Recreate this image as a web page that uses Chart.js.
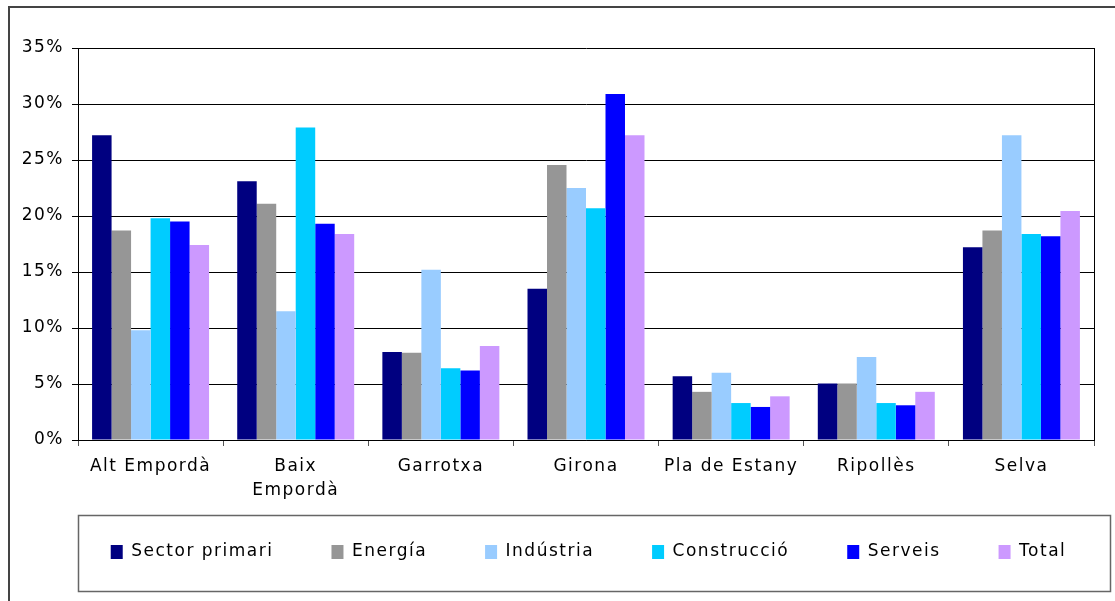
<!DOCTYPE html>
<html>
<head>
<meta charset="utf-8">
<script src="https://cdn.jsdelivr.net/npm/chart.js@4/dist/chart.umd.min.js"></script>
<style>
  body { margin: 0; background: #fff; }
  canvas { display: block; }
</style>
</head>
<body>
<canvas id="chart" width="1115" height="601"></canvas>
<script>
// comarques
var comarques = ["Alt Empordà", ["Baix", "Empordà"], "Garrotxa", "Girona", "Pla de Estany", "Ripollès", "Selva"];

// percentages per sector, one value per comarca
var sectorPrimari = [27.2, 23.1, 7.85, 13.5, 5.7, 5.05, 17.2];
var energia       = [18.7, 21.1, 7.8, 24.55, 4.3, 5.05, 18.7];
var industria     = [9.8, 11.5, 15.2, 22.5, 6.0, 7.4, 27.2];
var construccio   = [19.8, 27.9, 6.4, 20.7, 3.3, 3.3, 18.4];
var serveis       = [19.5, 19.3, 6.2, 30.9, 2.95, 3.1, 18.2];
var total         = [17.4, 18.4, 8.4, 27.2, 3.9, 4.3, 20.45];

var yTicks = [0, 5, 10, 15, 20, 25, 30, 35];

var seriesNames  = ["Sector primari", "Energía", "Indústria", "Construcció", "Serveis", "Total"];
var seriesValues = [sectorPrimari, energia, industria, construccio, serveis, total];
var seriesColours = ["#000080", "#969696", "#99ccff", "#00ccff", "#0000ff", "#cc99ff"];

var legendPad = 58;

Chart.defaults.font.family = "'DejaVu Sans', sans-serif";
Chart.defaults.font.size = 17;
Chart.defaults.color = "#000";

function buildDatasets() {
  var sets = [];
  for (var i = 0; i < seriesNames.length; i++) {
    sets.push({
      label: seriesNames[i],
      data: seriesValues[i],
      backgroundColor: seriesColours[i],
      borderWidth: 0,
      barPercentage: 1,
      categoryPercentage: 0.806
    });
  }
  return sets;
}

function setSpacing(chart) {
  chart.ctx.letterSpacing = "1.5px";
}

// frame round the whole chart, right edge of the plot and box round the legend
var framePlugin = {
  id: "frames",
  beforeUpdate: setSpacing,
  beforeDraw: setSpacing,
  afterLayout: function(chart) {
    // move the legend row into its box: up a bit, and right so it sits under the plot
    var legend = chart.legend;
    legend.top -= 18.5;
    legend.bottom -= 18.5;
    legend.left += 41.5;
    legend.right += 41.5;
  },
  afterDraw: function(chart) {
    var ctx = chart.ctx;
    var area = chart.chartArea;
    var legend = chart.legend;
    ctx.save();
    ctx.strokeStyle = "#000";
    ctx.lineWidth = 1;
    ctx.beginPath();
    ctx.moveTo(Math.round(area.right) + 0.5, area.top);
    ctx.lineTo(Math.round(area.right) + 0.5, area.bottom);
    ctx.stroke();

    ctx.strokeStyle = "#444";
    ctx.lineWidth = 2;
    ctx.strokeRect(9, 7, chart.width + 20, chart.height + 20);

    var cy = legend.top + legendPad + 8.5;
    ctx.strokeStyle = "#666";
    ctx.lineWidth = 1.5;
    ctx.strokeRect(Math.round(area.left) + 0.5, Math.round(cy - 37) + 0.5, chart.width - 5 - Math.round(area.left), 76);
    ctx.restore();
  }
};

var ctx = document.getElementById("chart");
var sectorChart = new Chart(ctx, {
  type: "bar",
  data: { labels: comarques, datasets: buildDatasets() },
  options: {
    responsive: false,
    animation: false,
    layout: { padding: { top: 48, right: 21, left: 0, bottom: 12 } },
    plugins: {
      tooltip: { enabled: false },
      legend: {
        position: "bottom",
        fullSize: true,
        labels: { boxWidth: 12, boxHeight: 14, padding: legendPad, color: "#000" }
      }
    },
    scales: {
      x: {
        grid: { drawOnChartArea: false, drawTicks: true, tickLength: 6, color: "#555", offset: true },
        border: { color: "#000", width: 1 },
        ticks: { padding: 8, font: { lineHeight: 1.45 }, maxRotation: 0, autoSkip: false },
        afterFit: function(scale) { scale.height = 64; }
      },
      y: {
        min: 0,
        max: 35,
        afterBuildTicks: function(scale) {
          scale.ticks = yTicks.map(function(v) { return { value: v }; });
        },
        grid: { color: "#000", lineWidth: 1, tickLength: 6 },
        border: { color: "#000", width: 1 },
        ticks: {
          padding: 8,
          callback: function(value) { return value + "%"; }
        },
        afterFit: function(scale) { scale.width = 78; }
      }
    }
  },
  plugins: [framePlugin]
});
</script>
</body>
</html>
